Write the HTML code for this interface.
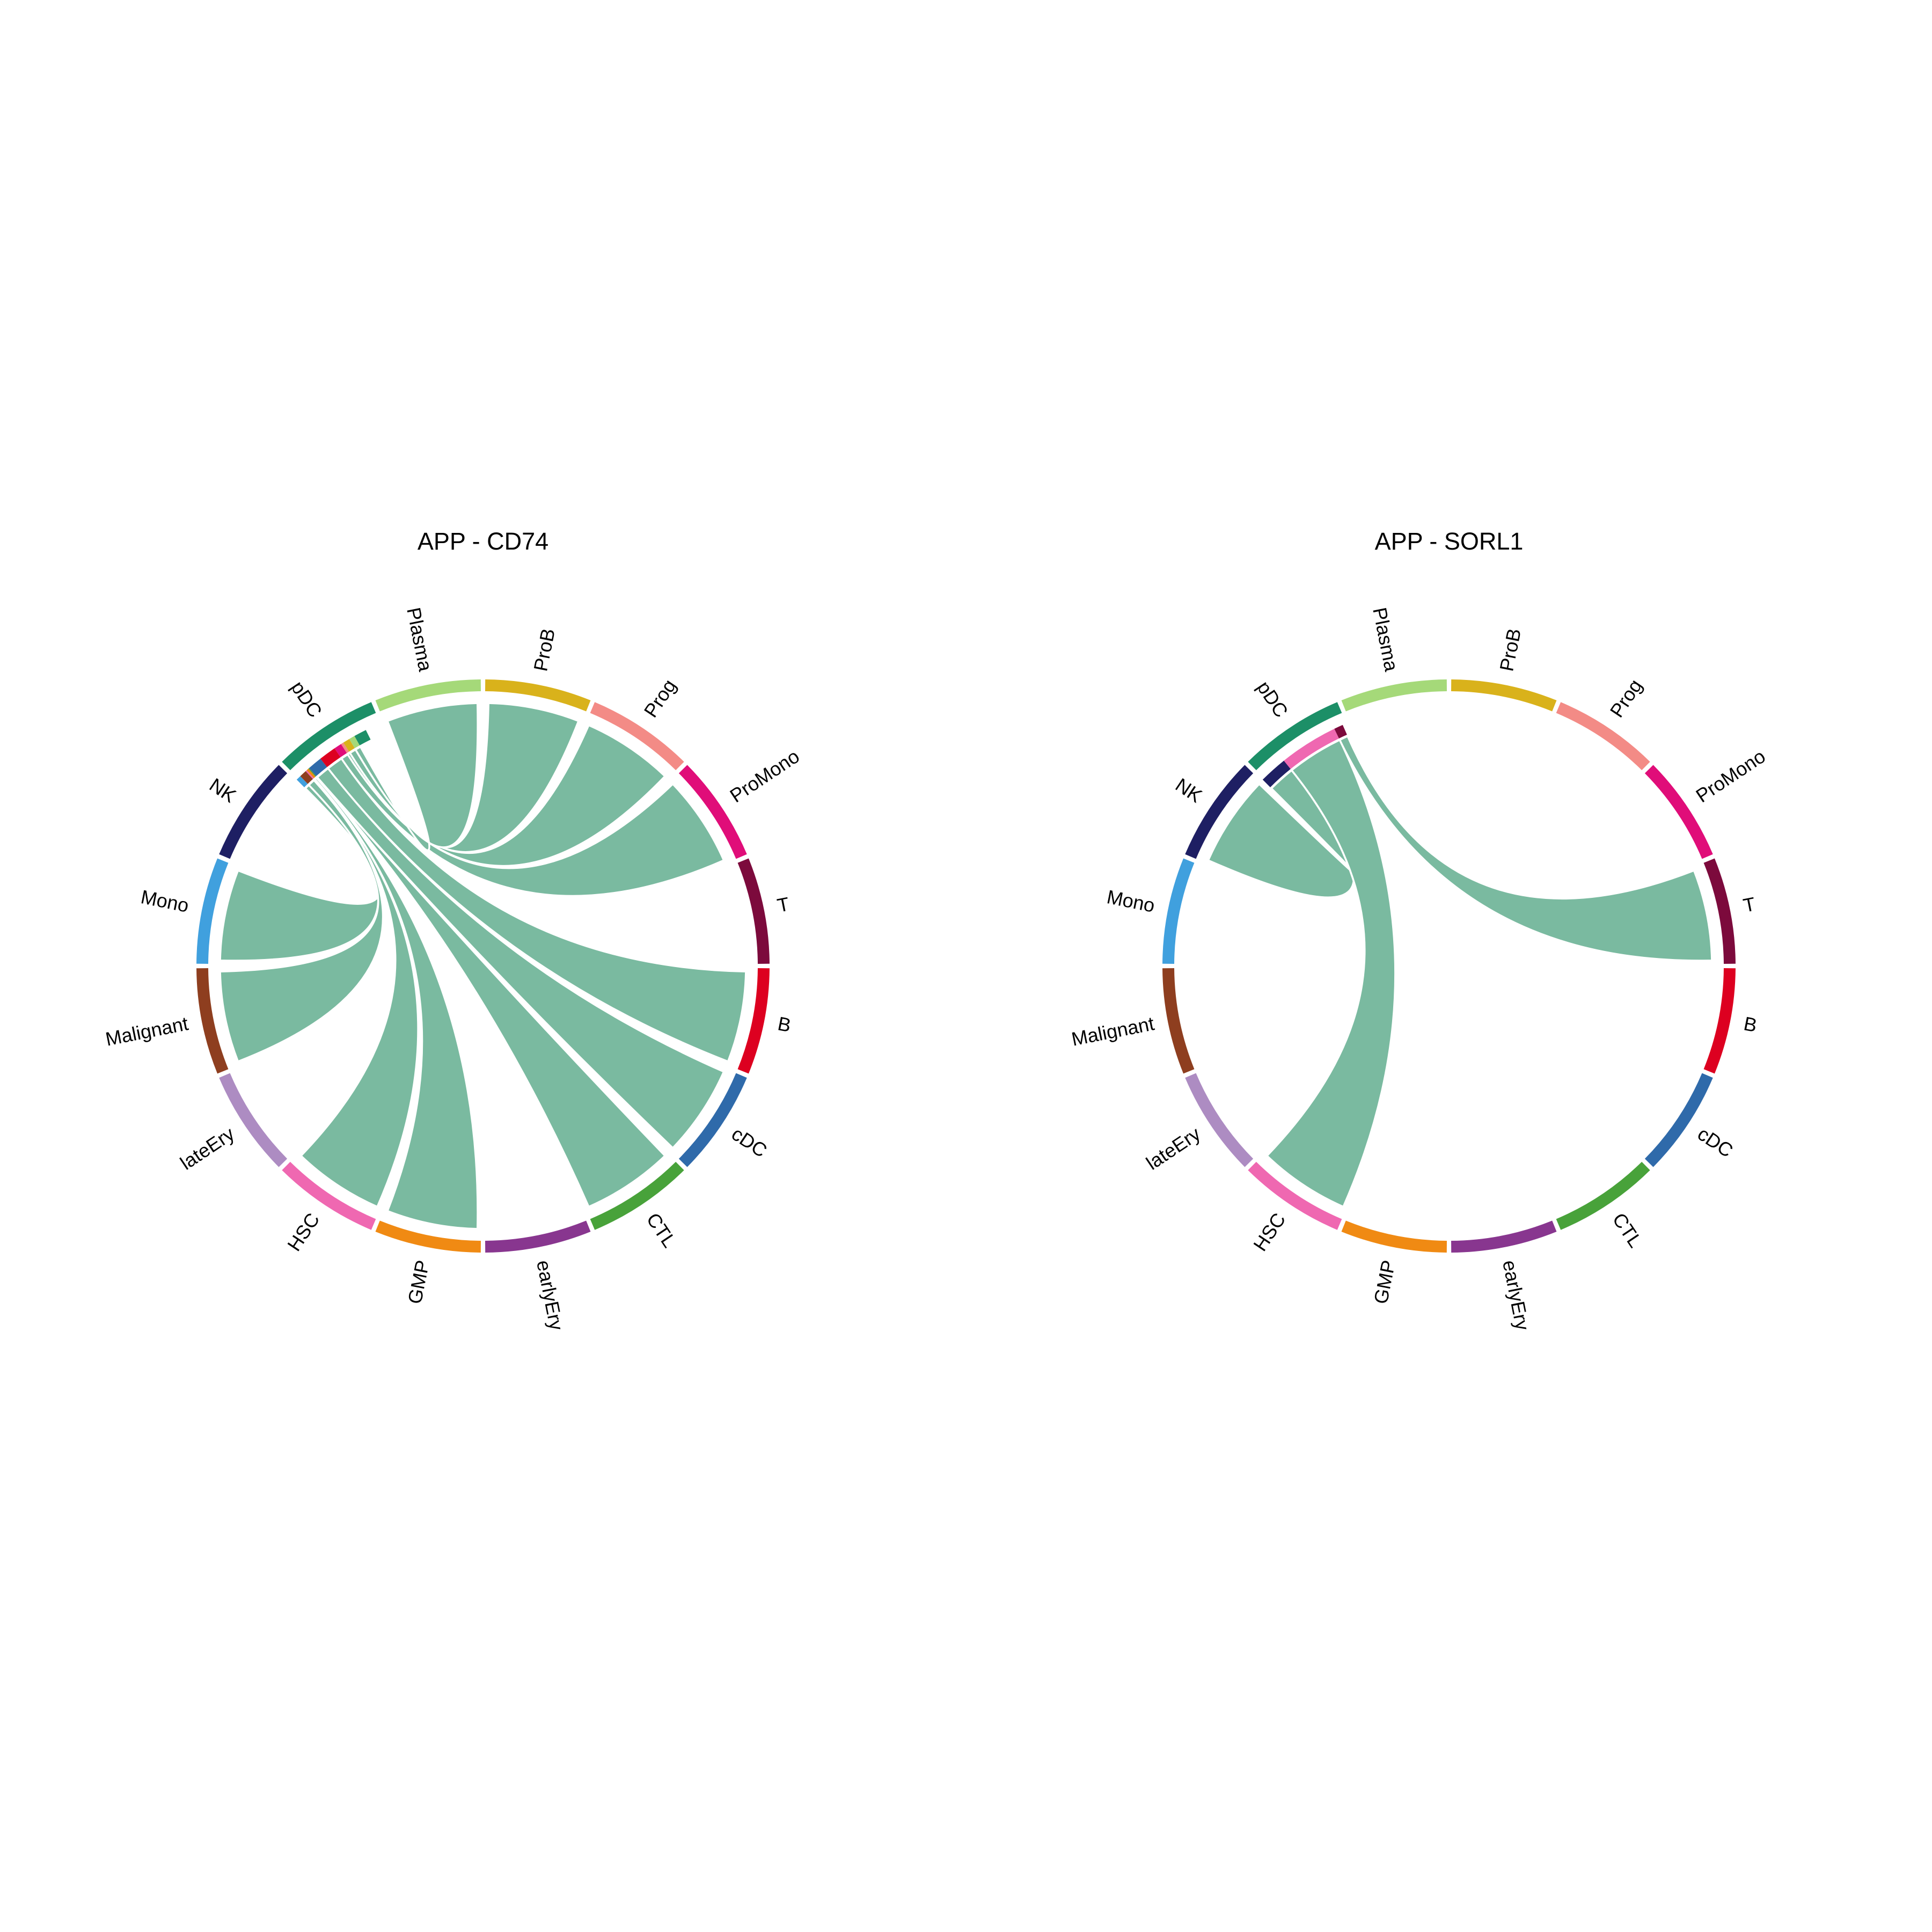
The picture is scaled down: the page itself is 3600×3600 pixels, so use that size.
<!DOCTYPE html>
<html><head><meta charset="utf-8"><style>
html,body{margin:0;padding:0;background:#fff}
svg{display:block}
text{font-family:"Liberation Sans",Arial,sans-serif;fill:#000}
</style></head><body>
<svg id="chart" width="3600" height="3600" viewBox="0 0 3600 3600" xmlns="http://www.w3.org/2000/svg">
<rect width="3600" height="3600" fill="#fff"/>
<g id="p1"></g>
<g id="p2"></g>
</svg>
<script>
const sectorNames = ["ProB","Prog","ProMono","T","B","cDC","CTL","earlyEry","GMP","HSC","lateEry","Malignant","Mono","NK","pDC","Plasma"];
const sectorColors = ["#d9b21b","#f38b86","#e00d79","#7c0a3c","#dd0020","#2f6aaa","#48a23a","#88368f","#f08a13","#ef68b1","#ad8cc2","#8e3e1f","#40a0de","#1e1f63","#1c8f67","#a5d979"];
const p1Title = "APP - CD74";
const p1Targets = ["Mono","Malignant","HSC","GMP","CTL","cDC","B","ProMono","Prog","ProB","Plasma","pDC"];
const p1Widths = [1.1,1.6,0.3,0.5,0.2,3.2,3.8,1.7,0.6,1.5,1.3,2.8];
const p2Title = "APP - SORL1";
const p2Targets = ["NK","HSC","T"];
const p2Widths = [6.2,13.0,2.0];
const sourceName = "pDC";

const NS="http://www.w3.org/2000/svg";
function el(tag,attrs,parent){const e=document.createElementNS(NS,tag);for(const k in attrs)e.setAttribute(k,attrs[k]);parent.appendChild(e);return e;}
function pt(cx,cy,r,deg){const a=deg*Math.PI/180;return [cx+r*Math.sin(a),cy-r*Math.cos(a)];}
function arcD(cx,cy,r,a0,a1){const p0=pt(cx,cy,r,a0),p1=pt(cx,cy,r,a1);const large=(a1-a0)>180?1:0;return `M${p0[0]},${p0[1]} A${r},${r} 0 ${large} 1 ${p1[0]},${p1[1]}`;}

function drawPanel(g,cx,cy,title,targets,widths){
  const SEC=22.5, GAP=0.45, RR=523, RW=22, RS=481, RSW=20, RC=468, RT=490;
  const t=el('text',{x:cx,y:1012,'font-size':45,'text-anchor':'middle','dominant-baseline':'middle'},g);
  t.textContent=title;
  
  
  sectorNames.forEach((n,i)=>{
    const a0=i*SEC+GAP,a1=(i+1)*SEC-GAP;
    const p=el('path',{d:arcD(cx,cy,RR,a0,a1),stroke:sectorColors[i],'stroke-width':RW,fill:'none'},g);
    
    
    const am=(i+0.5)*SEC;const lp=pt(cx,cy,560,am);
    const right=am<180;
    const rot=right?am-90:am+90;
    const tx=el('text',{x:lp[0],y:lp[1],'font-size':36,'text-anchor':right?'start':'end','dominant-baseline':'middle',transform:`rotate(${rot},${lp[0]},${lp[1]})`},g);
    tx.textContent=n;
    
    
  });
  const si=sectorNames.indexOf(sourceName);
  let a=si*SEC;
  targets.forEach((tn,k)=>{
    const s0=a,s1=a+widths[k];a=s1;
    const ti=sectorNames.indexOf(tn);
    const st=el('path',{d:arcD(cx,cy,RS,s0,s1),stroke:sectorColors[ti],'stroke-width':RSW,fill:'none'},g);
    
    
    if(tn===sourceName) return;
    const t0=ti*SEC+1.2,t1=(ti+1)*SEC-1.2;
    const A=pt(cx,cy,RC,s0),B=pt(cx,cy,RC,s1),C=pt(cx,cy,RT,t0),D=pt(cx,cy,RT,t1);
    const d=`M${A[0]},${A[1]} A${RC},${RC} 0 0 1 ${B[0]},${B[1]} Q${cx},${cy} ${C[0]},${C[1]} A${RT},${RT} 0 0 1 ${D[0]},${D[1]} Q${cx},${cy} ${A[0]},${A[1]} Z`;
    const c=el('path',{d:d,fill:'#7abaa0',stroke:'#ffffff','stroke-width':3.5,'stroke-linejoin':'round'},g);
    
    
  });
}
drawPanel(document.getElementById('p1'),900,1800,p1Title,p1Targets,p1Widths);
drawPanel(document.getElementById('p2'),2700,1800,p2Title,p2Targets,p2Widths);
</script>
</body></html>
